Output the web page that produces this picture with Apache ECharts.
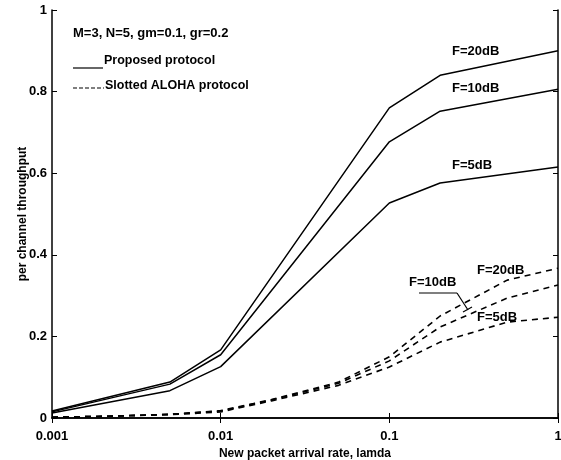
<!DOCTYPE html>
<html>
<head>
<meta charset="utf-8">
<script src="https://cdn.jsdelivr.net/npm/echarts@6/dist/echarts.min.js"></script>
<style>
  html, body { margin: 0; padding: 0; background: #fff; }
  #chart { width: 561px; height: 460px; }
</style>
</head>
<body>
<div id="chart"></div>
<script>
// new packet arrival rate (lamda)
var lamdaProposed = [0.001, 0.005, 0.01, 0.1, 0.2, 1];
var proposed20 = [0.017, 0.088, 0.167, 0.76, 0.84, 0.90];
var proposed10 = [0.015, 0.083, 0.155, 0.677, 0.752, 0.806];
var proposed5 = [0.012, 0.067, 0.126, 0.527, 0.576, 0.615];

var lamdaAloha = [0.001, 0.002, 0.005, 0.01, 0.02, 0.05, 0.1, 0.2, 0.5, 1];
var aloha20 = [0.002, 0.004, 0.009, 0.018, 0.045, 0.088, 0.15, 0.25, 0.338, 0.367];
var aloha10 = [0.002, 0.004, 0.009, 0.017, 0.044, 0.085, 0.14, 0.223, 0.294, 0.326];
var aloha5 = [0.002, 0.004, 0.008, 0.015, 0.042, 0.08, 0.125, 0.186, 0.235, 0.247];

var yTicks = [0, 0.2, 0.4, 0.6, 0.8, 1];

var FONT = '"Liberation Sans", Arial, sans-serif';

function pairs(xs, ys) {
    return xs.map(function (x, i) { return [x, ys[i]]; });
}

function solid(name, ys) {
    return {
        name: name, type: 'line', data: pairs(lamdaProposed, ys),
        showSymbol: false, silent: true,
        lineStyle: { color: '#000', width: 1.5, type: 'solid' }
    };
}
function dashed(name, ys) {
    return {
        name: name, type: 'line', data: pairs(lamdaAloha, ys),
        showSymbol: false, silent: true,
        lineStyle: { color: '#000', width: 1.6, type: [6, 5] }
    };
}

function txt(x, y, s, size) {
    return {
        type: 'text', left: x, top: y - 8,
        style: { text: s, fill: '#000', font: 'bold ' + (size || 13) + 'px ' + FONT }
    };
}
function seg(x1, y1, x2, y2, dash) {
    return {
        type: 'line', shape: { x1: x1, y1: y1, x2: x2, y2: y2 },
        style: { stroke: '#000', lineWidth: 1.2, lineDash: dash || null }
    };
}

var axisLine = { lineStyle: { color: '#000', width: 1.5 } };
var axisTick = { inside: true, length: 5, lineStyle: { color: '#000' } };
var labelStyle = { color: '#000', fontFamily: FONT, fontWeight: 'bold', fontSize: 13 };

var option = {
    animation: false,
    backgroundColor: '#fff',
    grid: { left: 52, right: 3, top: 10, bottom: 42, containLabel: false, outerBoundsMode: 'none' },
    xAxis: [{
        type: 'log', logBase: 10, min: 0.001, max: 1,
        name: 'New packet arrival rate, lamda',
        nameLocation: 'middle', nameGap: 30, nameMoveOverlap: false,
        nameTextStyle: { color: '#000', fontFamily: FONT, fontWeight: 'bold', fontSize: 12 },
        axisLine: axisLine, axisTick: axisTick,
        axisLabel: Object.assign({ margin: 12 }, labelStyle),
        splitLine: { show: false }
    }, {
        type: 'log', logBase: 10, min: 0.001, max: 1, position: 'top',
        axisLine: axisLine, axisTick: axisTick,
        axisLabel: { show: false }, splitLine: { show: false }
    }],
    yAxis: [{
        type: 'value', min: yTicks[0], max: yTicks[yTicks.length - 1], interval: 0.2,
        name: 'per channel throughput',
        nameLocation: 'middle', nameGap: 23, nameRotate: 90, nameMoveOverlap: false,
        nameTextStyle: { color: '#000', fontFamily: FONT, fontWeight: 'bold', fontSize: 12 },
        axisLine: axisLine, axisTick: axisTick,
        axisLabel: Object.assign({ margin: 5 }, labelStyle),
        splitLine: { show: false }
    }, {
        type: 'value', min: yTicks[0], max: yTicks[yTicks.length - 1], interval: 0.2,
        position: 'right',
        axisLine: axisLine, axisTick: axisTick,
        axisLabel: { show: false }, splitLine: { show: false }
    }],
    series: [
        solid('Proposed F=20dB', proposed20),
        solid('Proposed F=10dB', proposed10),
        solid('Proposed F=5dB', proposed5),
        dashed('ALOHA F=20dB', aloha20),
        dashed('ALOHA F=10dB', aloha10),
        dashed('ALOHA F=5dB', aloha5)
    ],
    graphic: [
        txt(73, 35, 'M=3, N=5, gm=0.1, gr=0.2'),
        seg(73, 68, 103, 68),
        txt(104, 62, 'Proposed protocol', 12.5),
        seg(73, 88, 104, 88, [4, 2]),
        txt(105, 87, 'Slotted ALOHA protocol', 12.5),
        txt(452, 53, 'F=20dB'),
        txt(452, 90, 'F=10dB'),
        txt(452, 167, 'F=5dB'),
        txt(477, 272, 'F=20dB'),
        txt(409, 284, 'F=10dB'),
        seg(419, 293, 457, 293),
        seg(457, 293, 468, 310),
        seg(463, 312, 472, 307),
        txt(477, 319, 'F=5dB')
    ]
};

var chart = echarts.init(document.getElementById('chart'));
chart.setOption(option);
</script>
</body>
</html>
